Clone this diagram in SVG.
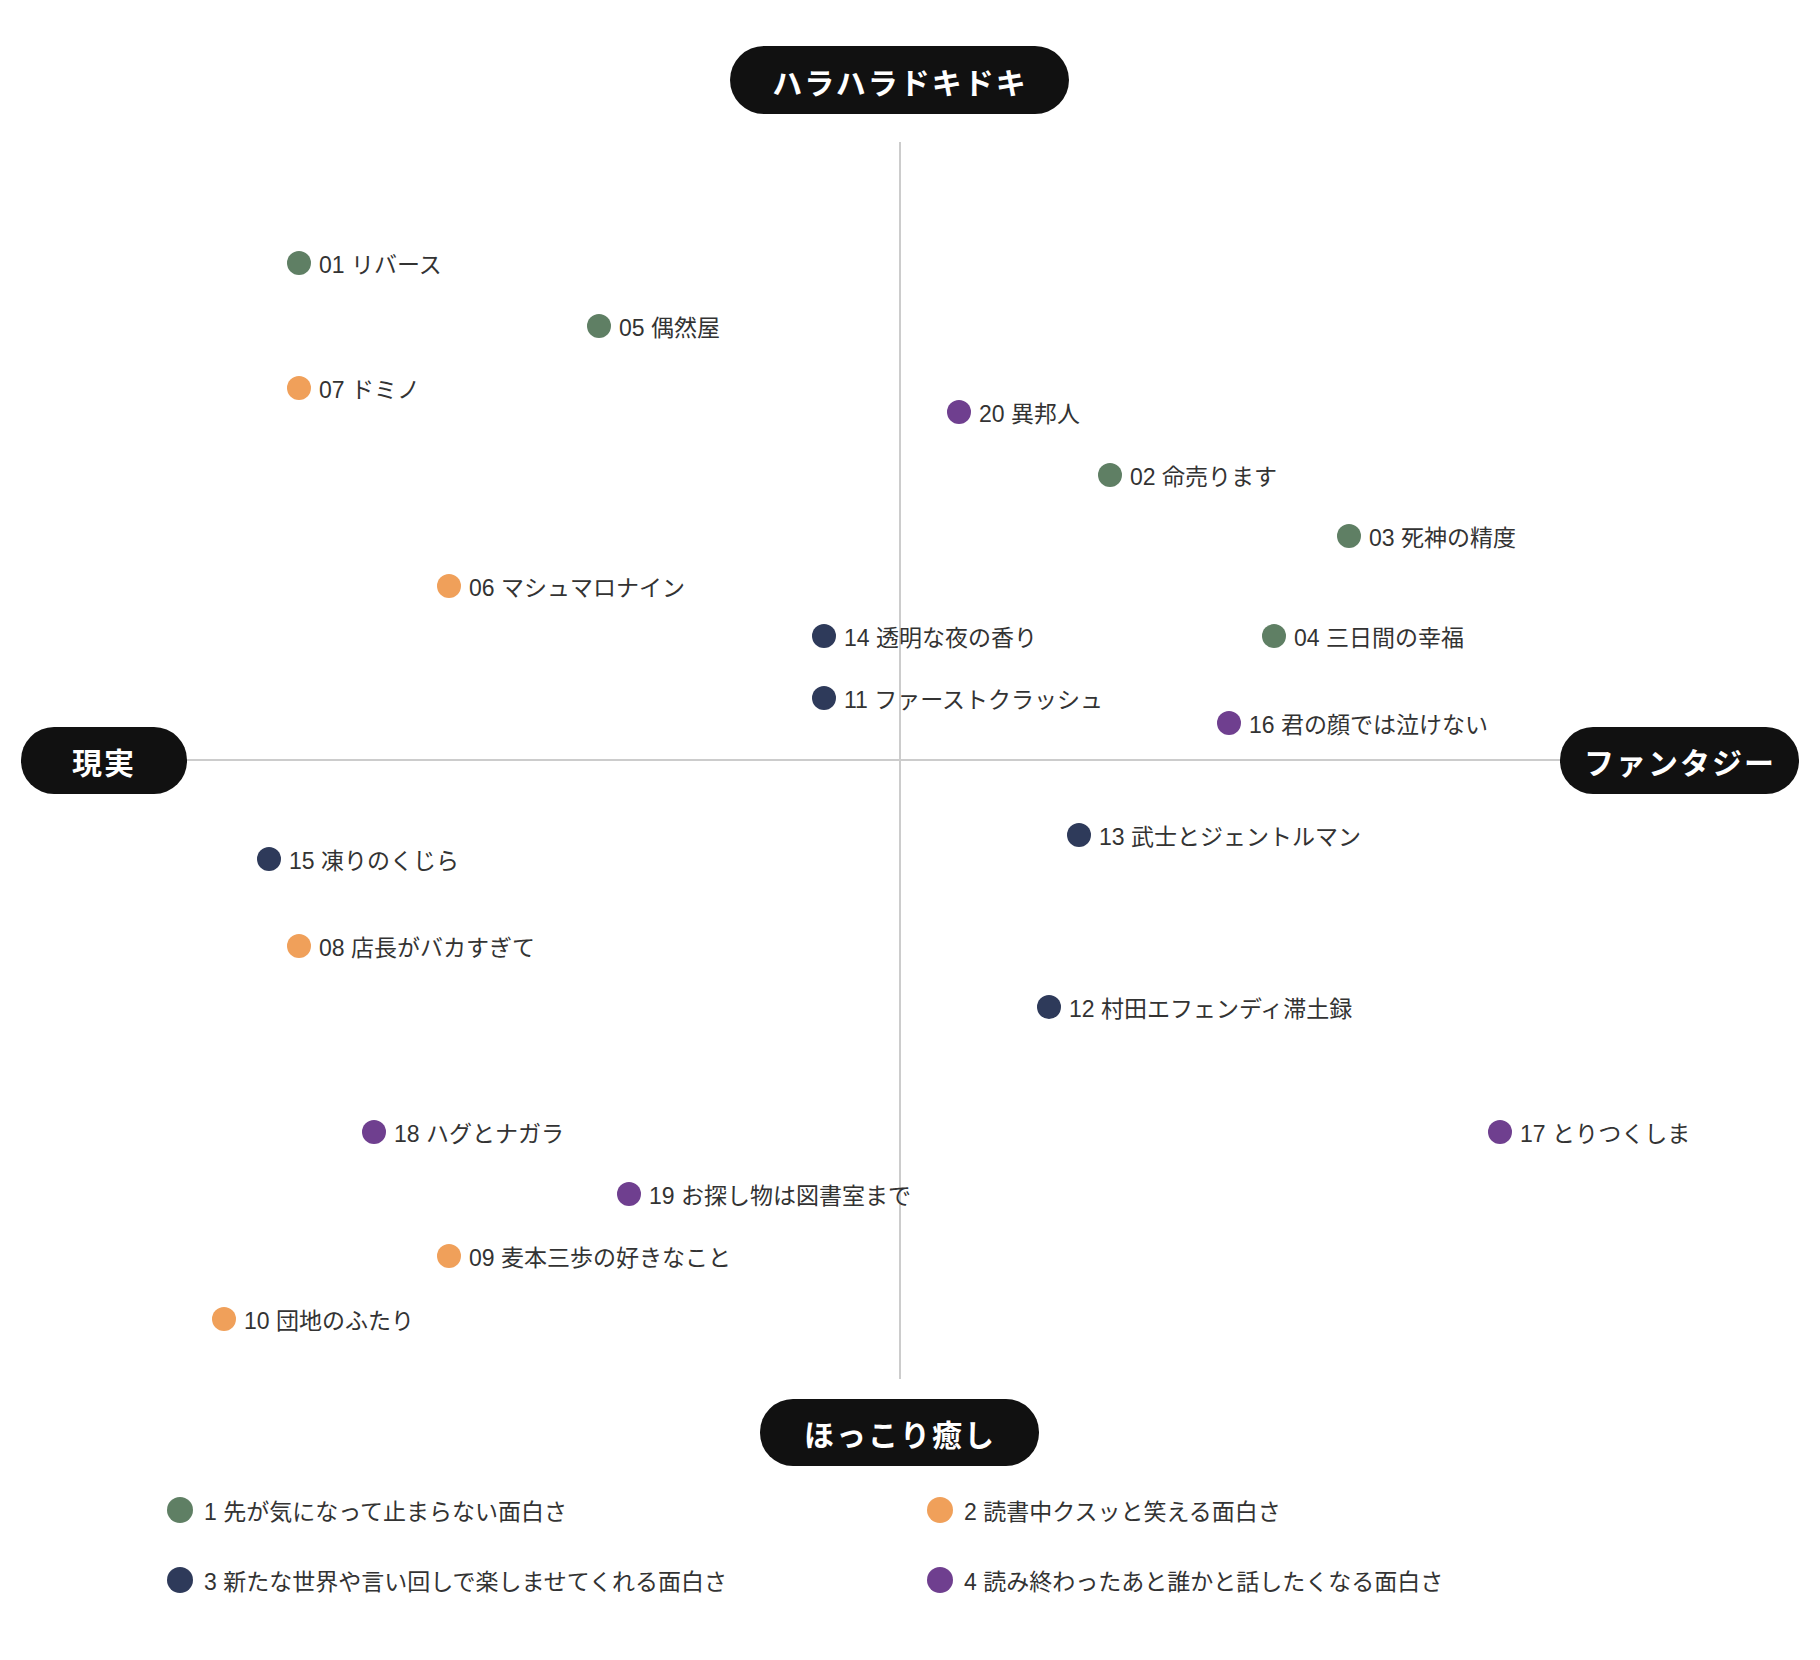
<svg xmlns="http://www.w3.org/2000/svg" width="1820" height="1660" viewBox="0 0 1820 1660">
<style>
.t{font-family:"Liberation Sans","Noto Sans CJK JP",sans-serif;font-size:23px;fill:#333;dominant-baseline:central}
.p{font-family:"Noto Sans CJK JP","Liberation Sans",sans-serif;font-size:30px;font-weight:bold;fill:#fff;text-anchor:middle;dominant-baseline:central;letter-spacing:2px}
.g{fill:#5f7f64}.o{fill:#f0a05a}.n{fill:#2e3a5a}.v{fill:#6f3f8f}
.ax{stroke:#cccccc;stroke-width:2}
</style>
<rect width="1820" height="1660" fill="#fff"/>
<g id="axes">
<line class="ax" x1="900" y1="142" x2="900" y2="1379"/>
<line class="ax" x1="186" y1="760" x2="1561" y2="760"/>
</g>
<g id="label-top"><rect x="730" y="46" width="339" height="68" rx="34" fill="#111"/><text class="p" x="900" y="81">ハラハラドキドキ</text></g>
<g id="label-left"><rect x="21" y="727" width="166" height="67" rx="33" fill="#111"/><text class="p" x="104" y="761">現実</text></g>
<g id="label-right"><rect x="1560" y="727" width="239" height="67" rx="33" fill="#111"/><text class="p" x="1680" y="761">ファンタジー</text></g>
<g id="label-bottom"><rect x="760" y="1399" width="279" height="67" rx="33" fill="#111"/><text class="p" x="900" y="1433">ほっこり癒し</text></g>
<g id="b01"><circle class="g" cx="299" cy="263" r="12"/><text class="t" x="319" y="265">01 リバース</text></g>
<g id="b05"><circle class="g" cx="599" cy="326" r="12"/><text class="t" x="619" y="328">05 偶然屋</text></g>
<g id="b07"><circle class="o" cx="299" cy="388" r="12"/><text class="t" x="319" y="390">07 ドミノ</text></g>
<g id="b20"><circle class="v" cx="959" cy="412" r="12"/><text class="t" x="979" y="414">20 異邦人</text></g>
<g id="b02"><circle class="g" cx="1110" cy="475" r="12"/><text class="t" x="1130" y="477">02 命売ります</text></g>
<g id="b03"><circle class="g" cx="1349" cy="536" r="12"/><text class="t" x="1369" y="538">03 死神の精度</text></g>
<g id="b06"><circle class="o" cx="449" cy="586" r="12"/><text class="t" x="469" y="588">06 マシュマロナイン</text></g>
<g id="b14"><circle class="n" cx="824" cy="636" r="12"/><text class="t" x="844" y="638">14 透明な夜の香り</text></g>
<g id="b04"><circle class="g" cx="1274" cy="636" r="12"/><text class="t" x="1294" y="638">04 三日間の幸福</text></g>
<g id="b11"><circle class="n" cx="824" cy="698" r="12"/><text class="t" x="844" y="700">11 ファーストクラッシュ</text></g>
<g id="b16"><circle class="v" cx="1229" cy="723" r="12"/><text class="t" x="1249" y="725">16 君の顔では泣けない</text></g>
<g id="b13"><circle class="n" cx="1079" cy="835" r="12"/><text class="t" x="1099" y="837">13 武士とジェントルマン</text></g>
<g id="b15"><circle class="n" cx="269" cy="859" r="12"/><text class="t" x="289" y="861">15 凍りのくじら</text></g>
<g id="b08"><circle class="o" cx="299" cy="946" r="12"/><text class="t" x="319" y="948">08 店長がバカすぎて</text></g>
<g id="b12"><circle class="n" cx="1049" cy="1007" r="12"/><text class="t" x="1069" y="1009">12 村田エフェンディ滞土録</text></g>
<g id="b18"><circle class="v" cx="374" cy="1132" r="12"/><text class="t" x="394" y="1134">18 ハグとナガラ</text></g>
<g id="b17"><circle class="v" cx="1500" cy="1132" r="12"/><text class="t" x="1520" y="1134">17 とりつくしま</text></g>
<g id="b19"><circle class="v" cx="629" cy="1194" r="12"/><text class="t" x="649" y="1196">19 お探し物は図書室まで</text></g>
<g id="b09"><circle class="o" cx="449" cy="1256" r="12"/><text class="t" x="469" y="1258">09 麦本三歩の好きなこと</text></g>
<g id="b10"><circle class="o" cx="224" cy="1319" r="12"/><text class="t" x="244" y="1321">10 団地のふたり</text></g>
<g id="legend">
<circle class="g" cx="180" cy="1510" r="13"/><text class="t" x="204" y="1512">1 先が気になって止まらない面白さ</text>
<circle class="o" cx="940" cy="1510" r="13"/><text class="t" x="964" y="1512">2 読書中クスッと笑える面白さ</text>
<circle class="n" cx="180" cy="1580" r="13"/><text class="t" x="204" y="1582">3 新たな世界や言い回しで楽しませてくれる面白さ</text>
<circle class="v" cx="940" cy="1580" r="13"/><text class="t" x="964" y="1582">4 読み終わったあと誰かと話したくなる面白さ</text>
</g>
<g id="connectors"></g>
</svg>
